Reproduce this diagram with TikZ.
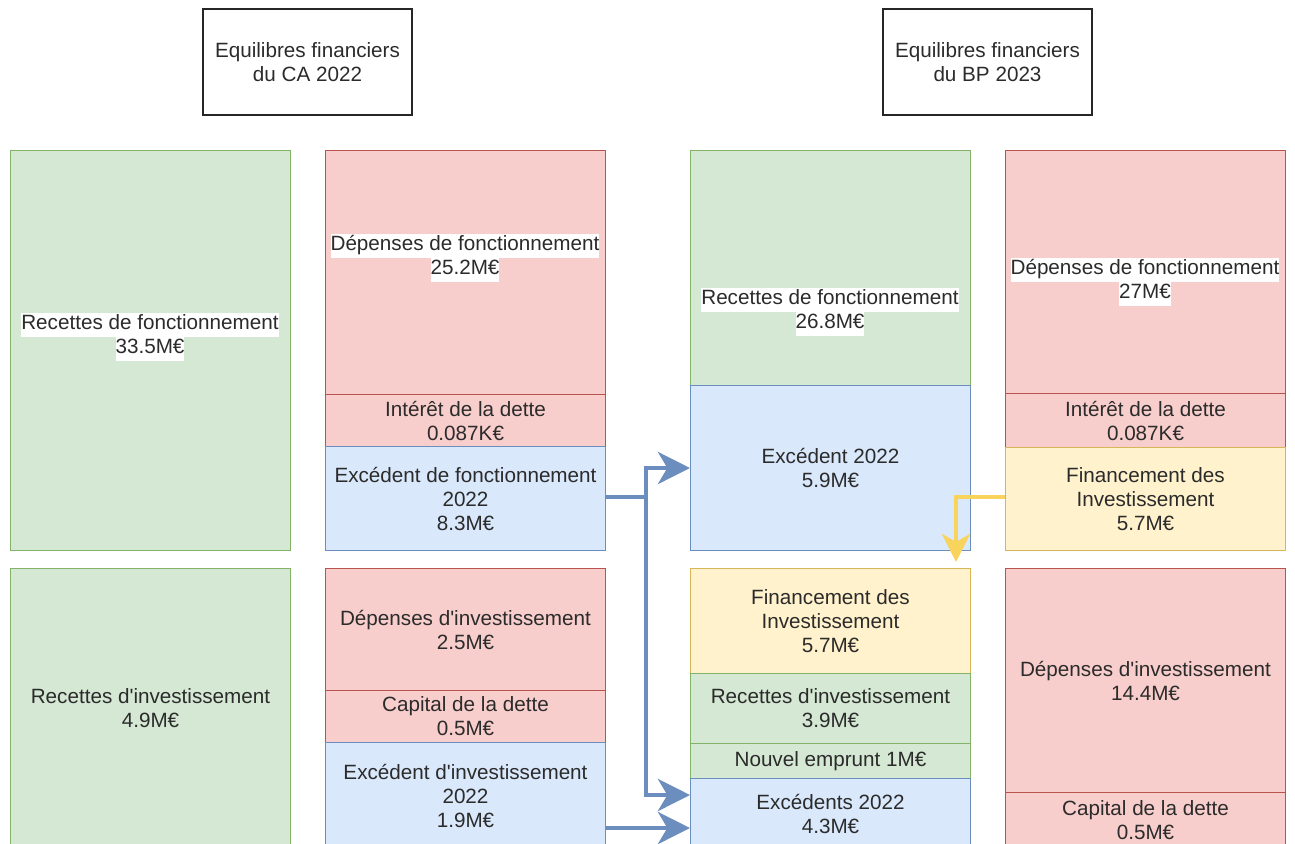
\documentclass[tikz,border=0pt]{standalone}
\usepackage{fontspec}
\setmainfont{Liberation Sans}
\usetikzlibrary{arrows.meta}

\definecolor{gFill}{HTML}{D5E8D4}
\definecolor{gLine}{HTML}{82B366}
\definecolor{rFill}{HTML}{F8CECC}
\definecolor{rLine}{HTML}{B85450}
\definecolor{bFill}{HTML}{DAE8FC}
\definecolor{bLine}{HTML}{6C8EBF}
\definecolor{yFill}{HTML}{FFF2CC}
\definecolor{yLine}{HTML}{D6B656}
\definecolor{yArrow}{HTML}{F8D45C}
\definecolor{txtCol}{HTML}{2B2B2B}

% white band behind a label line
\newcommand{\hlt}[1]{{\setlength{\fboxsep}{0pt}\colorbox{white}{\strut #1}}}
% straight apostrophe
\newcommand{\ap}{\textquotesingle}

\tikzset{every picture/.style={line width=0.75pt},
  cell/.style 2 args={draw, anchor=north west, inner sep=0pt, align=center,
    minimum width={#1*0.75pt}, minimum height={#2*0.75pt}},
  green/.style={fill=gFill, draw=gLine},
  red/.style={fill=rFill, draw=rLine},
  blue/.style={fill=bFill, draw=bLine},
  yellow/.style={fill=yFill, draw=yLine},
  titlebox/.style={draw=black!85, line width=1.2pt, align=center, inner sep=0pt,
    minimum width=156.75pt, minimum height=79.5pt},
  lbl/.style={align=center, inner sep=0pt},
  flow/.style={draw=bLine, line width=3.6pt, -{Stealth[length=24pt,width=24pt,inset=7pt]}},
  yflow/.style={draw=yArrow, line width=3.6pt, -{Stealth[length=21pt,width=21pt,inset=6pt]}}
}

\begin{document}
\begin{tikzpicture}[x=0.75pt,y=0.75pt,yscale=-1,xscale=1,
  every node/.style={font=\fontsize{15.5pt}{18pt}\selectfont, text=txtCol}]
\useasboundingbox (0,0) rectangle (1295,843);
\clip (0,0) rectangle (1295,843);

% Titles
\node[titlebox] (tCA) at (307.5,62) {Equilibres financiers\\du CA 2022};
\node[titlebox] (tBP) at (987.5,62) {Equilibres financiers\\du BP 2023};

%Shape: Rectangle -- CA 2022, fonctionnement
\node[cell={280}{400}, green] (rfA) at (10,150) {};
\node[cell={280}{244}, red] (dfB) at (325,150) {};
\node[cell={280}{52}, red] (idB) at (325,394) {Intérêt de la dette\\0.087K€};
\node[cell={280}{104}, blue] (efB) at (325,446) {Excédent de fonctionnement\\2022\\8.3M€};

%Shape: Rectangle -- CA 2022, investissement
\node[cell={280}{280}, green] (riA) at (10,568) {Recettes d\ap investissement\\4.9M€};
\node[cell={280}{122}, red] (diB) at (325,568) {Dépenses d\ap investissement\\2.5M€};
\node[cell={280}{52}, red] (cdB) at (325,690) {Capital de la dette\\0.5M€};
\node[cell={280}{106}, blue] (eiB) at (325,742) {Excédent d\ap investissement\\2022\\1.9M€};

%Shape: Rectangle -- BP 2023, fonctionnement
\node[cell={280}{235}, green] (rfC) at (690,150) {};
\node[cell={280}{165}, blue] (exC) at (690,385) {Excédent 2022\\5.9M€};
\node[cell={280}{243}, red] (dfD) at (1005,150) {};
\node[cell={280}{54}, red] (idD) at (1005,393) {Intérêt de la dette\\0.087K€};
\node[cell={280}{103}, yellow] (fiD) at (1005,447) {Financement des\\Investissement\\5.7M€};

%Shape: Rectangle -- BP 2023, investissement
\node[cell={280}{105}, yellow] (fiC) at (690,568) {Financement des\\Investissement\\5.7M€};
\node[cell={280}{70}, green] (riC) at (690,673) {Recettes d\ap investissement\\3.9M€};
\node[cell={280}{35}, green] (neC) at (690,743) {Nouvel emprunt 1M€};
\node[cell={280}{70}, blue] (esC) at (690,778) {Excédents 2022\\4.3M€};
\node[cell={280}{224}, red] (diD) at (1005,568) {Dépenses d\ap investissement\\14.4M€};
\node[cell={280}{56}, red] (cdD) at (1005,792) {Capital de la dette\\0.5M€};

% Text Node
\node[lbl] (rfAt) at (150,337) {\hlt{Recettes de fonctionnement}\\\hlt{33.5M€}};
% Text Node
\node[lbl] (dfBt) at (465,258) {\hlt{Dépenses de fonctionnement}\\\hlt{25.2M€}};
% Text Node
\node[lbl] (rfCt) at (830,312) {\hlt{Recettes de fonctionnement}\\\hlt{26.8M€}};
% Text Node
\node[lbl] (dfDt) at (1145,282) {\hlt{Dépenses de fonctionnement}\\\hlt{27M€}};

% Connectors
\coordinate (split) at (646,497);
\coordinate (jlow) at (646,795);
\coordinate (lowrow) at (0,828);
\coordinate (ydrop) at (956,562);
\draw[flow] (efB.east |- split) -- (split) |- (exC.west);
\draw[flow] (split) -- (jlow) -- (jlow -| esC.west);
\draw[flow] (eiB.east |- lowrow) -- (esC.west |- lowrow);
\draw[yflow] (fiD.west |- split) -| (ydrop);

\end{tikzpicture}
\end{document}
